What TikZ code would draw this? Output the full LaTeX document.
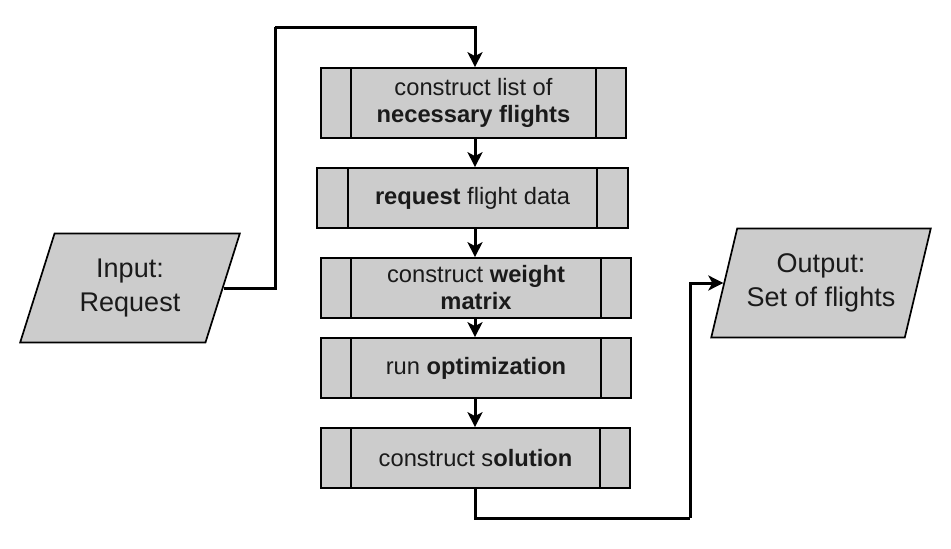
\documentclass[tikz,border=0pt]{standalone}
\usepackage{fontspec}
\setmainfont{Liberation Sans}
\usetikzlibrary{shapes.geometric,arrows.meta}
\definecolor{boxgray}{HTML}{CCCCCC}
\definecolor{txt}{HTML}{1A1A1A}
\tikzset{
  procbox/.style={draw=black, line width=1.7pt, fill=boxgray, minimum height=60pt,
    inner sep=0pt, align=center, text=txt, font=\fontsize{23.7}{27}\selectfont},
  iobox/.style={draw=black, line width=1.7pt, fill=boxgray, shape=trapezium,
    trapezium left angle=68.5, trapezium right angle=111.5, trapezium stretches=true,
    minimum width=220pt, minimum height=109pt, inner sep=0pt, align=center, text=txt,
    font=\fontsize{27}{34}\selectfont},
  conn/.style={draw=black, line width=3pt, -{Stealth[length=15pt,width=15pt,inset=4pt]}},
  plain/.style={draw=black, line width=3pt},
  sideline/.style={draw=black, line width=1.7pt}
}
\begin{document}
\begin{tikzpicture}[x=1pt,y=-1pt]
\useasboundingbox (0,0) rectangle (951,549);
% process boxes
\node[procbox, minimum width=305pt, minimum height=70pt] (b1) at (473.5,103) {construct list of\\\textbf{necessary flights}};
\node[procbox, minimum width=311pt] (b2) at (472.5,198) {\textbf{request} flight data};
\node[procbox, minimum width=310pt] (b3) at (476,288) {construct \textbf{weight}\\\textbf{matrix}};
\node[procbox, minimum width=310pt] (b4) at (476,368) {run \textbf{optimization}};
\node[procbox, minimum width=309pt] (b5) at (475.5,458) {construct s\textbf{olution}};
% inner side lines
\foreach \b/\s in {b1/31,b2/32,b3/31,b4/31,b5/31}{
  \draw[sideline] ([xshift=\s pt]\b.north west) -- ([xshift=\s pt]\b.south west);
  \draw[sideline] ([xshift=-\s pt]\b.north east) -- ([xshift=-\s pt]\b.south east);
}
% input / output
\node[iobox] (in) at (130,288) {Input:\\Request};
\node[iobox] (out) at (821,283) {Output:\\Set of flights};
% connectors
\coordinate (c1) at (275,27);
\coordinate (c2) at (690,518);
\coordinate (x) at (475,0);
\draw[plain] (in.east) -| (c1);
\draw[conn] (c1) -| (x |- b1.north);
\draw[conn] (x |- b1.south) -- (x |- b2.north);
\draw[conn] (x |- b2.south) -- (x |- b3.north);
\draw[conn] (x |- b3.south) -- (x |- b4.north);
\draw[conn] (x |- b4.south) -- (x |- b5.north);
\draw[plain] (x |- b5.south) |- (c2);
\draw[conn] (c2) |- (out.west);
\end{tikzpicture}
\end{document}
